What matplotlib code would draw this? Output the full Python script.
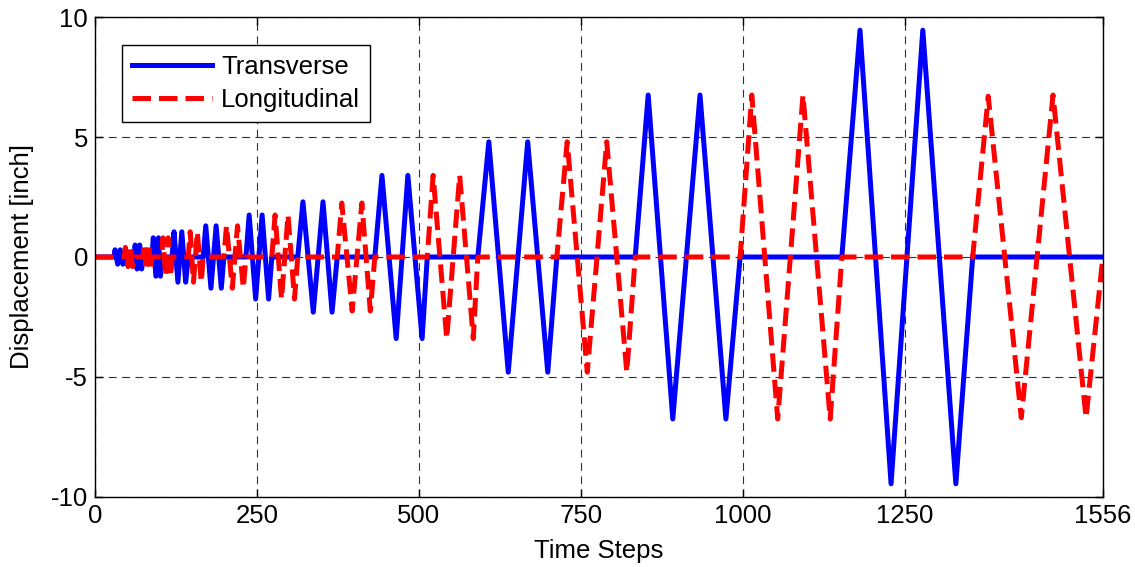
import matplotlib
matplotlib.use('Agg')
import matplotlib.pyplot as plt

# Peak/trough vertices (time step, displacement in inch)
transverse_t = [0,
                29, 31, 35, 39, 43, 45,
                60, 62, 65, 69, 72, 74,
                88, 90, 94, 98, 101, 103,
                119, 122, 128, 134, 140, 144,
                167, 171, 179, 187, 195, 199,
                233, 238, 248, 258, 268, 273,
                313, 321, 337, 352, 366, 374,
                432, 443, 465, 483, 505, 513,
                591, 608, 638, 668, 699, 713,
                834, 854, 892, 934, 974, 996,
                1153, 1181, 1229, 1278, 1329, 1355,
                1556]
transverse_y = [0,
                0, 0.3, -0.3, 0.3, -0.3, 0,
                0, 0.5, -0.5, 0.5, -0.5, 0,
                0, 0.8, -0.8, 0.8, -0.8, 0,
                0, 1.05, -1.05, 1.05, -1.05, 0,
                0, 1.3, -1.3, 1.3, -1.3, 0,
                0, 1.75, -1.75, 1.75, -1.75, 0,
                0, 2.3, -2.3, 2.3, -2.3, 0,
                0, 3.4, -3.4, 3.4, -3.4, 0,
                0, 4.8, -4.8, 4.8, -4.8, 0,
                0, 6.75, -6.75, 6.75, -6.75, 0,
                0, 9.45, -9.45, 9.45, -9.45, 0,
                0]

longitudinal_t = [0,
                  45, 47, 51, 54, 58, 60,
                  74, 76, 79, 83, 86, 88,
                  103, 105, 109, 113, 117, 119,
                  144, 147, 152, 158, 164, 167,
                  199, 203, 212, 220, 229, 233,
                  273, 278, 288, 298, 308, 313,
                  374, 381, 397, 412, 425, 432,
                  513, 522, 543, 563, 584, 591,
                  713, 729, 760, 790, 821, 834,
                  996, 1014, 1054, 1093, 1135, 1153,
                  1355, 1379, 1430, 1479, 1530, 1556]
longitudinal_y = [0,
                  0, 0.4, -0.4, 0.4, -0.4, 0,
                  0, 0.55, -0.55, 0.55, -0.55, 0,
                  0, 0.8, -0.8, 0.8, -0.8, 0,
                  0, 1.05, -1.05, 1.05, -1.05, 0,
                  0, 1.3, -1.3, 1.3, -1.3, 0,
                  0, 1.75, -1.75, 1.75, -1.75, 0,
                  0, 2.25, -2.25, 2.25, -2.25, 0,
                  0, 3.4, -3.4, 3.4, -3.4, 0,
                  0, 4.8, -4.8, 4.8, -4.8, 0,
                  0, 6.75, -6.75, 6.75, -6.75, 0,
                  0, 6.7, -6.7, 6.75, -6.7, 0]

x_ticks = [0, 250, 500, 750, 1000, 1250, 1556]
y_ticks = [-10, -5, 0, 5, 10]


def make_plot():
    plt.rcParams['font.family'] = ['Liberation Sans', 'DejaVu Sans']
    plt.rcParams['font.size'] = 18.5
    plt.rcParams['axes.unicode_minus'] = False

    fig = plt.figure(figsize=(11.35, 5.67), dpi=100)
    ax = fig.add_axes([0.0837, 0.1235, 0.888, 0.8465])

    ax.plot(transverse_t, transverse_y, '-', color='#0000ff', linewidth=3.6,
            solid_joinstyle='round', label='Transverse')
    ax.plot(longitudinal_t, longitudinal_y, '--', color='#ff0000', linewidth=3.6,
            label='Longitudinal')

    ax.set_xlim(0, 1556)
    ax.set_ylim(-10, 10)
    ax.set_xticks(x_ticks)
    ax.set_yticks(y_ticks)
    ax.set_xlabel('Time Steps', labelpad=8)
    ax.set_ylabel('Displacement [inch]', labelpad=12)

    ax.tick_params(direction='in', top=True, right=True, length=6, width=1, pad=5)
    for s in ax.spines.values():
        s.set_linewidth(1.0)
        s.set_color('black')

    ax.set_axisbelow(True)
    ax.grid(True, color='#333333', linewidth=0.8, linestyle=(0, (7, 5)))

    leg = ax.legend(loc='upper left', bbox_to_anchor=(0.027, 0.942), borderaxespad=0,
                    handlelength=3.1, handletextpad=0.35, labelspacing=0.35,
                    borderpad=0.4, fancybox=False, framealpha=1, edgecolor='black')
    leg.get_frame().set_linewidth(1.0)

    fig.savefig('out.png', dpi=100)


if __name__ == "__main__":
    make_plot()
